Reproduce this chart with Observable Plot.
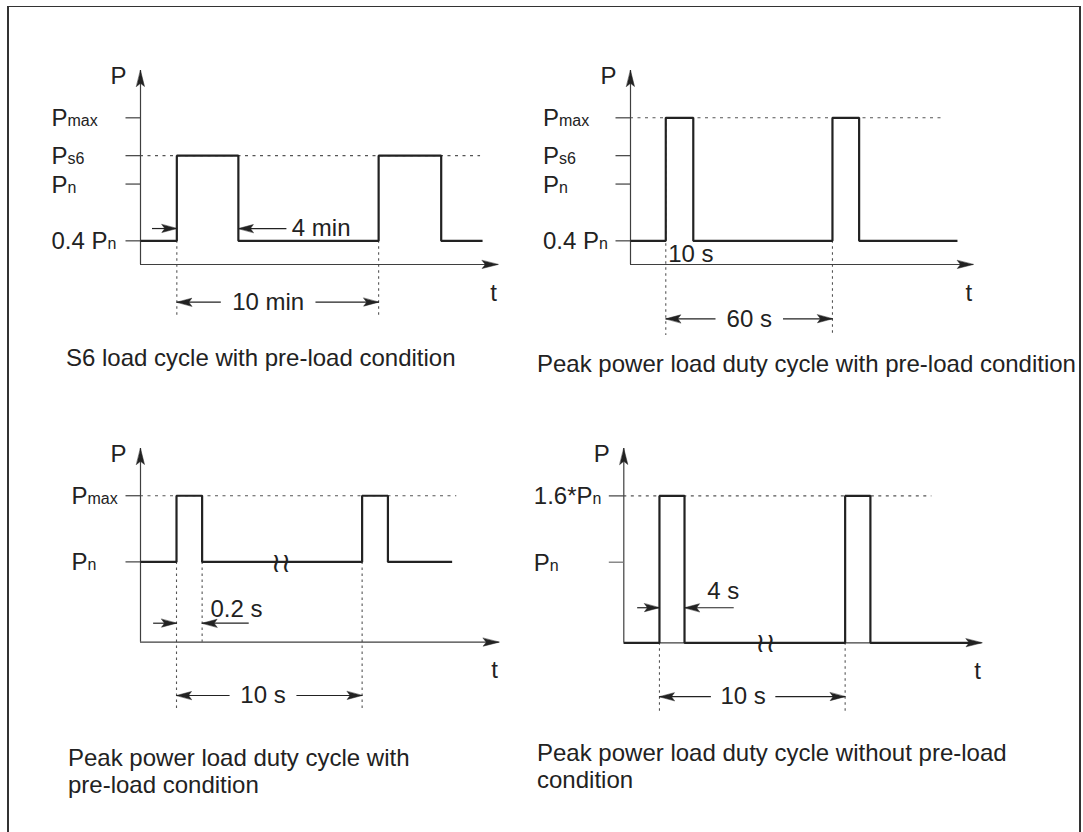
<!DOCTYPE html>
<html>
<head>
<meta charset="utf-8">
<script src="https://cdn.jsdelivr.net/npm/d3@7"></script>
<script src="https://cdn.jsdelivr.net/npm/@observablehq/plot@0.6"></script>
<style>
  html, body { margin: 0; padding: 0; background: #fff; }
  #page { position: relative; width: 1083px; height: 832px; overflow: hidden;
          font-family: 'Liberation Sans', Arial, Helvetica, sans-serif; color: #222; }
  #frame { position: absolute; left: 7px; top: 6px; width: 1070px; height: 900px;
           border-top: 1.5px solid #333; border-left: 2px solid #333; border-right: 2px solid #333; }
  .cap { position: absolute; font-size: 24px; line-height: 27px; white-space: nowrap; color: #222; }
</style>
</head>
<body>
<div id="page"><div id="frame"></div></div>
<script>
// ---------------- DATA ----------------
// Shared schematic power-level scale (multiples of Pn), bottom = time axis, top = arrow tip
const levelDomain = [0.15, 2.2];

// Panel A: S6 load cycle with pre-load condition (t in min)
const aTickValues = [0.4, 1, 1.3, 1.7];
const aTickLabels = ["0.4 P|n", "P|n", "P|s6", "P|max"];
const aRises = [1.8, 11.8];
const aFalls = [4.85, 14.9];
const aGuideT = [1.8, 11.8];
const aGuideFrom = [0.4, 0.4];
const aGuideTo = [-0.42, -0.42];

// Panel B: peak power load duty cycle with pre-load condition (t in s)
const bTickValues = [0.4, 1, 1.3, 1.7];
const bTickLabels = ["0.4 P|n", "P|n", "P|s6", "P|max"];
const bRises = [12.7, 72.7];
const bFalls = [22.6, 82.3];
const bGuideT = [12.7, 72.7];
const bGuideFrom = [1.7, 0.4];
const bGuideTo = [-0.6, -0.6];

// Panel C: peak power load duty cycle with pre-load condition (t in s, break in time axis)
const cTickValues = [1, 1.7];
const cTickLabels = ["P|n", "P|max"];
const cRises = [1.94, 11.94];
const cFalls = [3.32, 13.33];
const cGuideT = [1.94, 3.32, 11.94];
const cGuideFrom = [1, 1, 1];
const cGuideTo = [-0.59, 0.15, -0.59];

// Panel D: peak power load duty cycle without pre-load condition (t in s, break in time axis)
const dTickValues = [1, 1.7];
const dTickLabels = ["P|n", "1.6*P|n"];
const dRises = [1.92, 11.92];
const dFalls = [3.27, 13.28];
const dGuideT = [1.92, 11.92];
const dGuideFrom = [0.15, 0.15];
const dGuideTo = [-0.583, -0.583];

// Dimension annotations: [from, to, level, gapStart, gapEnd, label]
const aPeriod = [1.8, 11.8, -0.248, 3.98, 8.67, "10 min"];
const bPeriod = [12.7, 72.7, -0.424, 30.6, 54.9, "60 s"];
const cPeriod = [1.94, 11.94, -0.414, 4.8, 8.4, "10 s"];
const dPeriod = [1.92, 11.92, -0.418, 4.69, 8.16, "10 s"];
// Pulse-width annotations: [outerLeft, outerRight, level, labelT, label]
const aWidth = [0.57, 7.23, 0.53, 7.5, "4 min"];
const cWidth = [0.68, 5.83, 0.351, 3.77, "0.2 s"];
const dWidth = [0.72, 5.92, 0.52, 4.49, "4 s"];

const captions = [
  "S6 load cycle with pre-load condition",
  "Peak power load duty cycle with pre-load condition",
  "Peak power load duty cycle with\npre-load condition",
  "Peak power load duty cycle without pre-load\ncondition"
];

// ---------------- STYLE ----------------
const FONT = "'Liberation Sans', Arial, Helvetica, sans-serif";
const INK = "#222222";
const AXIS = "#3f3f3f";
const DOT = "#555555";
const MUTED = "#8a8a8a";
const ROT = {up: 0, right: 90, left: -90};
const HEAD = {
  draw(ctx, l, r) {
    ctx.moveTo(0, -l);
    ctx.lineTo(r, 0);
    ctx.lineTo(0, -l * 0.2);
    ctx.lineTo(-r, 0);
    ctx.closePath();
  }
};

const zipGuides = (T, F, To) => T.map((t, i) => ({t, from: F[i], to: To[i]}));
const asPeriod = (a) => ({from: a[0], to: a[1], level: a[2], gap: [a[3], a[4]], label: a[5]});

const panels = [
  { xPx: [140, 497.6], yPx: [264, 70], xMax: 17.72, ticks: aTickValues, labels: aTickLabels, muted: [],
    base: 0.4, peak: 1.3, rises: aRises, falls: aFalls, waveEnd: 16.95, dottedEnd: 16.85,
    guides: zipGuides(aGuideT, aGuideFrom, aGuideTo), period: asPeriod(aPeriod), width: aWidth,
    labelDx: -89, widthAnchor: "middle", widthDy: 0, breaks: [], notes: [],
    cap: {text: captions[0], left: 66, baseline: 366} },
  { xPx: [630, 972.8], yPx: [264, 70], xMax: 123.4, ticks: bTickValues, labels: bTickLabels, muted: [],
    base: 0.4, peak: 1.7, rises: bRises, falls: bFalls, waveEnd: 117.7, dottedEnd: 112.2,
    guides: zipGuides(bGuideT, bGuideFrom, bGuideTo), period: asPeriod(bPeriod), width: null,
    labelDx: -87.5, breaks: [], notes: [{t: bRises[0], P: levelDomain[0], label: "10 s"}],
    cap: {text: captions[1], left: 537, baseline: 372} },
  { xPx: [140, 498.6], yPx: [641.7, 448], xMax: 19.32, ticks: cTickValues, labels: cTickLabels, muted: [],
    base: 1, peak: 1.7, rises: cRises, falls: cFalls, waveEnd: 16.79, dottedEnd: 17.04,
    guides: zipGuides(cGuideT, cGuideFrom, cGuideTo), period: asPeriod(cPeriod), width: cWidth,
    labelDx: -69, widthAnchor: "bottom", widthDy: -6.7, breaks: [{t: 7.57, P: 1}], notes: [],
    cap: {text: captions[2], left: 68, baseline: 766} },
  { xPx: [623.3, 981.5], yPx: [642.3, 448], xMax: 19.29, ticks: dTickValues, labels: dTickLabels, muted: [1],
    base: levelDomain[0], peak: 1.7, rises: dRises, falls: dFalls, waveEnd: 18.9, dottedEnd: 16.59,
    guides: zipGuides(dGuideT, dGuideFrom, dGuideTo), period: asPeriod(dPeriod), width: dWidth,
    labelDx: -90, widthAnchor: "bottom", widthDy: -9, breaks: [{t: 7.63, P: levelDomain[0]}], notes: [],
    cap: {text: captions[3], left: 537, baseline: 761} }
];

function subscripts(svg) {
  const ns = "http://www.w3.org/2000/svg";
  svg.querySelectorAll("text").forEach((t) => {
    const s = t.textContent;
    if (!s.includes("|")) return;
    const [main, sub] = s.split("|");
    t.textContent = "";
    const a = document.createElementNS(ns, "tspan");
    a.textContent = main;
    const b = document.createElementNS(ns, "tspan");
    b.textContent = sub;
    b.setAttribute("font-size", "16");
    t.append(a, b);
  });
}

function build(p) {
  const W = 1083, H = 832;
  const [yMin, yMax] = levelDomain;
  const wave = [{t: 0, P: p.base}];
  p.rises.forEach((r, i) => { wave.push({t: r, P: p.peak}, {t: p.falls[i], P: p.base}); });
  wave.push({t: p.waveEnd, P: p.base});

  const tickRows = p.ticks.map((v, i) => ({v, label: p.labels[i], muted: p.muted.includes(v)}));
  const per = p.period;
  const segs = [{a: per.from, b: per.gap[0], y: per.level}, {a: per.gap[1], b: per.to, y: per.level}];
  const heads = [{x: per.from, y: per.level, dir: "left"}, {x: per.to, y: per.level, dir: "right"}];
  const widthTexts = [];
  if (p.width) {
    const [outL, outR, lvl, labelT, label] = p.width;
    segs.push({a: outL, b: p.rises[0], y: lvl}, {a: p.falls[0], b: outR, y: lvl});
    heads.push({x: p.rises[0], y: lvl, dir: "right"}, {x: p.falls[0], y: lvl, dir: "left"});
    widthTexts.push({t: labelT, P: lvl, label});
  }
  const axisHeads = [{x: p.xMax, y: yMin, dir: "right"}, {x: 0, y: yMax, dir: "up"}];
  const txt = {fontSize: 24, fontFamily: FONT, fill: INK};

  const marks = [
    Plot.ruleY([p.peak], {x1: 0, x2: p.dottedEnd, stroke: DOT, strokeWidth: 1.1, strokeDasharray: "3,4.5"}),
    Plot.ruleX(p.guides, {x: "t", y1: "from", y2: "to", stroke: DOT, strokeWidth: 1.1, strokeDasharray: "2.5,3.5"}),
    Plot.ruleX([0], {stroke: AXIS, strokeWidth: 1.2}),
    Plot.ruleY([yMin], {stroke: AXIS, strokeWidth: 1.2}),
    Plot.ruleY(tickRows.filter((d) => !d.muted), {y: "v", x1: 0, x2: 0, insetLeft: -14.5, stroke: AXIS, strokeWidth: 1.2}),
    Plot.ruleY(tickRows.filter((d) => d.muted), {y: "v", x1: 0, x2: 0, insetLeft: -14.5, stroke: MUTED, strokeWidth: 1.5}),
    Plot.line(wave, {x: "t", y: "P", curve: "step-after", stroke: INK, strokeWidth: 2.2,
                     strokeLinejoin: "miter", strokeLinecap: "butt"}),
    Plot.link(segs, {x1: "a", x2: "b", y1: "y", y2: "y", stroke: INK, strokeWidth: 1.2}),
    Plot.vector(heads, {x: "x", y: "y", rotate: (d) => ROT[d.dir], length: 15, r: 4, anchor: "end",
                        shape: HEAD, fill: INK, stroke: INK, strokeWidth: 0.5}),
    Plot.vector(axisHeads, {x: "x", y: "y", rotate: (d) => ROT[d.dir], length: 16, r: 4, anchor: "end",
                            shape: HEAD, fill: INK, stroke: INK, strokeWidth: 0.5}),
    Plot.text(tickRows, {y: "v", text: "label", frameAnchor: "left", textAnchor: "start", lineAnchor: "bottom",
                         dx: p.labelDx, dy: 8.5, ...txt}),
    Plot.text([{x: 0, y: yMax}], {x: "x", y: "y", text: () => "P", textAnchor: "start", lineAnchor: "bottom",
                                   dx: -30, dy: 13, ...txt}),
    Plot.text([{x: p.xMax, y: yMin}], {x: "x", y: "y", text: () => "t", textAnchor: "middle", lineAnchor: "bottom",
                                        dx: -4.5, dy: 36, ...txt}),
    Plot.text([per], {x: (d) => (d.gap[0] + d.gap[1]) / 2, y: "level", text: "label",
                      textAnchor: "middle", lineAnchor: "middle", ...txt}),
    Plot.text(widthTexts, {x: "t", y: "P", text: "label", textAnchor: "start",
                           lineAnchor: p.widthAnchor || "middle", dy: p.widthDy || 0, ...txt}),
    Plot.text(p.notes, {x: "t", y: "P", text: "label", textAnchor: "start", lineAnchor: "bottom",
                        dx: 2.4, dy: -3, ...txt}),
    Plot.text(p.breaks, {x: "t", y: "P", text: () => "\u2240\u2240", textAnchor: "middle", lineAnchor: "middle",
                         fontSize: 27, fontFamily: "DejaVu Sans", fill: INK, dy: 1, letterSpacing: "-3px"})
  ];

  const svg = Plot.plot({
    width: W, height: H,
    marginLeft: p.xPx[0], marginRight: W - p.xPx[1],
    marginTop: p.yPx[1], marginBottom: H - p.yPx[0],
    x: {domain: [0, p.xMax], axis: null},
    y: {domain: levelDomain, axis: null},
    style: {background: "transparent", overflow: "visible", fontFamily: FONT,
            position: "absolute", left: "0px", top: "0px", maxWidth: "none"},
    marks
  });
  subscripts(svg);
  return svg;
}

const page = document.getElementById("page");
for (const p of panels) {
  page.appendChild(build(p));
  const cap = document.createElement("div");
  cap.className = "cap";
  cap.style.left = p.cap.left + "px";
  cap.style.top = (p.cap.baseline - 21.8) + "px";
  p.cap.text.split("\n").forEach((line, i) => {
    if (i) cap.appendChild(document.createElement("br"));
    cap.appendChild(document.createTextNode(line));
  });
  page.appendChild(cap);
}
</script>
</body>
</html>
